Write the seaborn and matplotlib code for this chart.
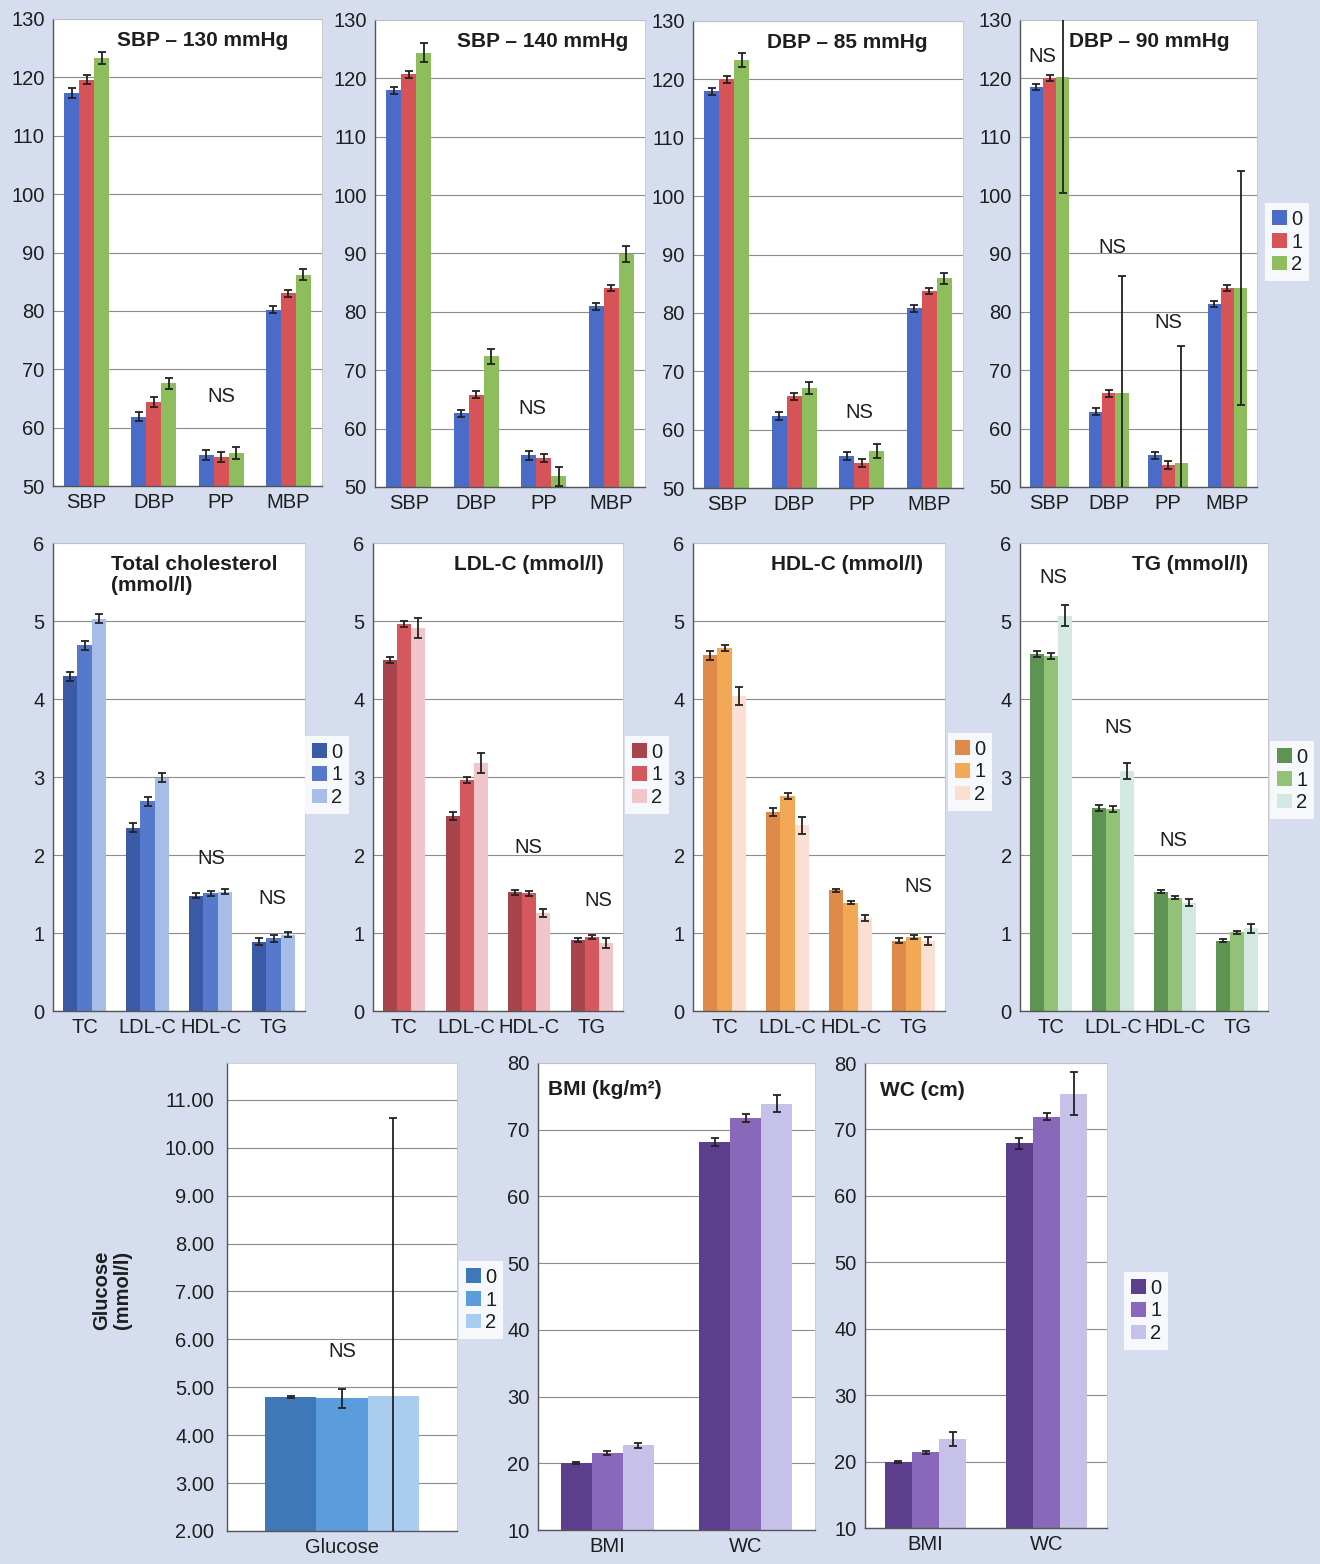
import numpy as np
import pandas as pd
import matplotlib
matplotlib.use('Agg')
import matplotlib.pyplot as plt
import seaborn as sns
from matplotlib.patches import Patch
from matplotlib.ticker import FormatStrFormatter

sns.set_theme(style='white')
plt.rcParams['font.family'] = ['Liberation Sans', 'DejaVu Sans']

# ---------------- data ----------------
groups = ['0', '1', '2']

bp_categories = ['SBP', 'DBP', 'PP', 'MBP']
sbp130_mean_0 = [117.3, 61.9, 55.3, 80.2]
sbp130_mean_1 = [119.6, 64.4, 55.0, 83.0]
sbp130_mean_2 = [123.3, 67.6, 55.7, 86.2]
sbp130_err_0 = [0.8, 0.8, 0.9, 0.6]
sbp130_err_1 = [0.8, 0.8, 0.9, 0.6]
sbp130_err_2 = [1.0, 0.9, 1.0, 0.9]

sbp140_mean_0 = [118.0, 62.6, 55.4, 81.0]
sbp140_mean_1 = [120.7, 65.8, 55.0, 84.1]
sbp140_mean_2 = [124.4, 72.4, 51.8, 89.9]
sbp140_err_0 = [0.6, 0.6, 0.7, 0.6]
sbp140_err_1 = [0.6, 0.6, 0.7, 0.5]
sbp140_err_2 = [1.6, 1.3, 1.7, 1.3]

dbp85_mean_0 = [118.0, 62.3, 55.5, 80.8]
dbp85_mean_1 = [120.0, 65.7, 54.3, 83.8]
dbp85_mean_2 = [123.4, 67.1, 56.3, 85.9]
dbp85_err_0 = [0.6, 0.7, 0.7, 0.6]
dbp85_err_1 = [0.6, 0.6, 0.7, 0.5]
dbp85_err_2 = [1.2, 1.0, 1.2, 0.9]

dbp90_mean_0 = [118.5, 62.9, 55.4, 81.4]
dbp90_mean_1 = [120.0, 66.1, 53.7, 84.1]
dbp90_mean_2 = [120.3, 66.1, 54.1, 84.1]
dbp90_err_0 = [0.5, 0.6, 0.6, 0.5]
dbp90_err_1 = [0.5, 0.6, 0.7, 0.5]
dbp90_err_2 = [19.9, 20.0, 20.0, 20.0]

lipid_categories = ['TC', 'LDL-C', 'HDL-C', 'TG']
tc_mean_0 = [4.29, 2.35, 1.48, 0.89]
tc_mean_1 = [4.69, 2.69, 1.51, 0.93]
tc_mean_2 = [5.03, 2.99, 1.53, 0.98]
tc_err_0 = [0.06, 0.06, 0.03, 0.04]
tc_err_1 = [0.06, 0.06, 0.03, 0.04]
tc_err_2 = [0.06, 0.06, 0.03, 0.03]

ldl_mean_0 = [4.50, 2.50, 1.52, 0.91]
ldl_mean_1 = [4.96, 2.96, 1.51, 0.95]
ldl_mean_2 = [4.91, 3.18, 1.26, 0.87]
ldl_err_0 = [0.04, 0.05, 0.03, 0.03]
ldl_err_1 = [0.04, 0.04, 0.03, 0.03]
ldl_err_2 = [0.13, 0.13, 0.05, 0.06]

hdl_mean_0 = [4.56, 2.55, 1.55, 0.90]
hdl_mean_1 = [4.65, 2.76, 1.39, 0.95]
hdl_mean_2 = [4.04, 2.38, 1.19, 0.90]
hdl_err_0 = [0.06, 0.05, 0.02, 0.03]
hdl_err_1 = [0.04, 0.04, 0.02, 0.03]
hdl_err_2 = [0.12, 0.11, 0.04, 0.05]

tg_mean_0 = [4.58, 2.60, 1.53, 0.90]
tg_mean_1 = [4.55, 2.59, 1.45, 1.01]
tg_mean_2 = [5.07, 3.08, 1.39, 1.06]
tg_err_0 = [0.04, 0.04, 0.02, 0.02]
tg_err_1 = [0.04, 0.04, 0.02, 0.02]
tg_err_2 = [0.13, 0.10, 0.05, 0.06]

glucose_categories = ['Glucose']
glucose_mean_0 = [4.80]
glucose_mean_1 = [4.77]
glucose_mean_2 = [4.82]
glucose_err_0 = [0.02]
glucose_err_1 = [0.20]
glucose_err_2 = [5.80]

anthro_categories = ['BMI', 'WC']
bmi_mean_0 = [20.0, 68.2]
bmi_mean_1 = [21.5, 71.7]
bmi_mean_2 = [22.7, 73.9]
bmi_err_0 = [0.15, 0.6]
bmi_err_1 = [0.3, 0.6]
bmi_err_2 = [0.4, 1.3]

wc_mean_0 = [19.9, 67.9]
wc_mean_1 = [21.4, 71.9]
wc_mean_2 = [23.4, 75.4]
wc_err_0 = [0.15, 0.8]
wc_err_1 = [0.2, 0.5]
wc_err_2 = [1.1, 3.2]

# ---------------- styling ----------------
W, H = 1320, 1564
BG = '#d5ddef'
TXT = '#1e1e1e'
FS = 14.5

pal_bp = ['#4a6cc8', '#d65458', '#8dbd5c']
pal_tc = ['#3b5aa6', '#5779cc', '#a6bde8']
pal_ldl = ['#a8444c', '#d4585e', '#f0c6cb']
pal_hdl = ['#df8a48', '#f2a855', '#fbdfd2']
pal_tg = ['#5e9453', '#92c277', '#d3e8e2']
pal_glu = ['#3e78b8', '#5b9ddc', '#a8cdef']
pal_pur = ['#5b3f8c', '#8a68b9', '#c6c1e9']

fig = plt.figure(figsize=(W / 100, H / 100), dpi=100, facecolor=BG)


def add_ax(x0, y0, x1, y1):
    return fig.add_axes([x0 / W, 1 - y1 / H, (x1 - x0) / W, (y1 - y0) / H])


def panel(ax, cats, means, errs, pal, ylim, yticks, fmt=None):
    rows = []
    for g, m in zip(groups, means):
        for c, v in zip(cats, m):
            rows.append({'cat': c, 'grp': g, 'val': v})
    df = pd.DataFrame(rows)
    sns.barplot(data=df, x='cat', y='val', hue='grp', order=cats,
                hue_order=groups, palette=pal, width=0.67, errorbar=None,
                saturation=1, legend=False, linewidth=0, ax=ax)
    for cont, m, e in zip(ax.containers, means, errs):
        xs = [b.get_x() + b.get_width() / 2 for b in cont]
        ax.errorbar(xs, m, yerr=e, fmt='none', ecolor='#222222',
                    elinewidth=1.3, capsize=2.6, capthick=1.3, zorder=5)
    ax.set_xlim(-0.5, len(cats) - 0.5)
    ax.set_ylim(*ylim)
    ax.set_yticks(yticks)
    if fmt:
        ax.yaxis.set_major_formatter(FormatStrFormatter(fmt))
    ax.set_xlabel('')
    ax.set_ylabel('')
    ax.set_facecolor('white')
    ax.yaxis.grid(True, color='#8c8c8c', lw=0.8)
    ax.set_axisbelow(True)
    ax.tick_params(axis='both', length=0, labelsize=FS, colors=TXT)
    ax.tick_params(axis='y', pad=6)
    ax.tick_params(axis='x', pad=5)
    for s in ['left', 'bottom']:
        ax.spines[s].set_color('#555555')
        ax.spines[s].set_linewidth(1.0)
    for s in ['top', 'right']:
        ax.spines[s].set_color('#c8c8c8')
        ax.spines[s].set_linewidth(0.6)


def legend(ax, pal, cx, cy):
    handles = [Patch(facecolor=c, edgecolor='none') for c in pal]
    lg = ax.legend(handles, groups, loc='center',
                   bbox_to_anchor=(cx / W, 1 - cy / H),
                   bbox_transform=fig.transFigure, fontsize=FS,
                   handlelength=0.75, handleheight=0.75, handletextpad=0.2,
                   labelspacing=0.18, borderpad=0.35, frameon=True,
                   fancybox=False)
    lg.get_frame().set_facecolor('white')
    lg.get_frame().set_edgecolor('none')
    for t in lg.get_texts():
        t.set_color(TXT)


def ns(ax, x, y):
    ax.text(x, y, 'NS', ha='center', va='center', fontsize=FS, color=TXT)


def title(ax, x, y, s, ha='center'):
    ax.text(x, y, s, transform=ax.transAxes, ha=ha, va='center',
            fontsize=15, fontweight='bold', color=TXT, linespacing=1.15)


bp_ticks = list(range(50, 131, 10))
lip_ticks = list(range(0, 7))

# ---------- Row 1 ----------
ax = add_ax(53, 19, 322, 486)
panel(ax, bp_categories, [sbp130_mean_0, sbp130_mean_1, sbp130_mean_2],
      [sbp130_err_0, sbp130_err_1, sbp130_err_2], pal_bp, (50, 130), bp_ticks)
title(ax, 0.558, 0.955, 'SBP – 130 mmHg')
ns(ax, 2.0, 65.4)

ax = add_ax(375, 20, 645, 487)
panel(ax, bp_categories, [sbp140_mean_0, sbp140_mean_1, sbp140_mean_2],
      [sbp140_err_0, sbp140_err_1, sbp140_err_2], pal_bp, (50, 130), bp_ticks)
title(ax, 0.622, 0.955, 'SBP – 140 mmHg')
ns(ax, 1.83, 63.5)

ax = add_ax(693, 21, 963, 488)
panel(ax, bp_categories, [dbp85_mean_0, dbp85_mean_1, dbp85_mean_2],
      [dbp85_err_0, dbp85_err_1, dbp85_err_2], pal_bp, (50, 130), bp_ticks)
title(ax, 0.570, 0.955, 'DBP – 85 mmHg')
ns(ax, 1.97, 62.9)

ax = add_ax(1020, 20, 1257, 487)
panel(ax, bp_categories, [dbp90_mean_0, dbp90_mean_1, dbp90_mean_2],
      [dbp90_err_0, dbp90_err_1, dbp90_err_2], pal_bp, (50, 130), bp_ticks)
title(ax, 0.545, 0.955, 'DBP – 90 mmHg')
ns(ax, -0.13, 123.8)
ns(ax, 1.05, 91.0)
ns(ax, 2.0, 78.1)
legend(ax, pal_bp, 1287, 242)

# ---------- Row 2 ----------
ax = add_ax(53, 543, 305, 1011)
panel(ax, lipid_categories, [tc_mean_0, tc_mean_1, tc_mean_2],
      [tc_err_0, tc_err_1, tc_err_2], pal_tc, (0, 6), lip_ticks)
title(ax, 0.23, 0.932, 'Total cholesterol\n(mmol/l)', ha='left')
ns(ax, 2.01, 1.96)
ns(ax, 2.98, 1.44)
legend(ax, pal_tc, 327, 775)

ax = add_ax(373, 543, 623, 1011)
panel(ax, lipid_categories, [ldl_mean_0, ldl_mean_1, ldl_mean_2],
      [ldl_err_0, ldl_err_1, ldl_err_2], pal_ldl, (0, 6), lip_ticks)
title(ax, 0.624, 0.953, 'LDL-C (mmol/l)')
ns(ax, 1.98, 2.10)
ns(ax, 3.1, 1.42)
legend(ax, pal_ldl, 647, 775)

ax = add_ax(693, 543, 945, 1011)
panel(ax, lipid_categories, [hdl_mean_0, hdl_mean_1, hdl_mean_2],
      [hdl_err_0, hdl_err_1, hdl_err_2], pal_hdl, (0, 6), lip_ticks)
title(ax, 0.611, 0.953, 'HDL-C (mmol/l)')
ns(ax, 3.07, 1.60)
legend(ax, pal_hdl, 970, 772)

ax = add_ax(1020, 543, 1268, 1011)
panel(ax, lipid_categories, [tg_mean_0, tg_mean_1, tg_mean_2],
      [tg_err_0, tg_err_1, tg_err_2], pal_tg, (0, 6), lip_ticks)
title(ax, 0.685, 0.953, 'TG (mmol/l)')
ns(ax, 0.03, 5.56)
ns(ax, 1.08, 3.64)
ns(ax, 1.97, 2.19)
legend(ax, pal_tg, 1292, 780)

# ---------- Row 3 ----------
ax = add_ax(227, 1063, 457, 1531)
panel(ax, glucose_categories, [glucose_mean_0, glucose_mean_1, glucose_mean_2],
      [glucose_err_0, glucose_err_1, glucose_err_2], pal_glu, (2, 11.77),
      list(range(2, 12)), fmt='%.2f')
ax.tick_params(axis='y', pad=9)
ns(ax, 0.0, 5.74)
legend(ax, pal_glu, 481, 1300)
fig.text(112 / W, 1 - 1290 / H, 'Glucose\n(mmol/l)', rotation=90,
         ha='center', va='center', fontsize=FS, fontweight='bold', color=TXT,
         linespacing=1.1)

ax = add_ax(538, 1063, 815, 1530)
panel(ax, anthro_categories, [bmi_mean_0, bmi_mean_1, bmi_mean_2],
      [bmi_err_0, bmi_err_1, bmi_err_2], pal_pur, (10, 80),
      list(range(10, 81, 10)))
title(ax, 0.036, 0.944, 'BMI (kg/m²)', ha='left')

ax = add_ax(865, 1063, 1107, 1528)
panel(ax, anthro_categories, [wc_mean_0, wc_mean_1, wc_mean_2],
      [wc_err_0, wc_err_1, wc_err_2], pal_pur, (10, 80),
      list(range(10, 81, 10)))
title(ax, 0.062, 0.94, 'WC (cm)', ha='left')
legend(ax, pal_pur, 1146, 1311)

fig.savefig('out.png', dpi=100, facecolor=BG)
